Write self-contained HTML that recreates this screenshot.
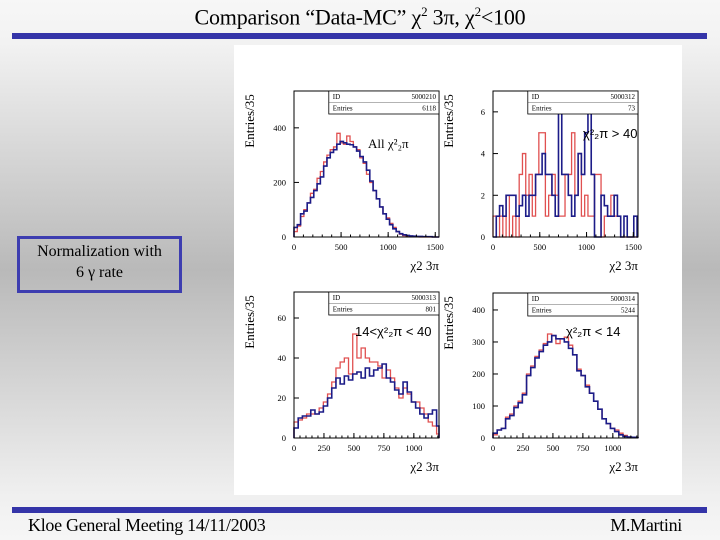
<!DOCTYPE html>
<html><head><meta charset="utf-8"><style>
body{margin:0}
#slide{position:relative;width:720px;height:540px;overflow:hidden;font-family:"Liberation Serif",serif;
background:linear-gradient(to bottom,#f7f7f7 0%,#f2f2f2 8%,#b9b9b9 50%,#f0f0f0 92%,#f6f6f6 100%)}
.abs{position:absolute}
</style></head><body>
<div id="slide">
<div class="abs" style="left:0;width:720px;top:4px;text-align:center;font-size:22px;letter-spacing:-0.2px">Comparison “Data-MC” χ<sup style="font-size:13px">2</sup> 3π, χ<sup style="font-size:13px">2</sup>&lt;100</div>
<div class="abs" style="left:12px;top:33px;width:695px;height:6px;background:#3434a8"></div>
<div class="abs" style="left:234px;top:45px;width:448px;height:450px;background:#fff"></div>
<div class="abs" style="left:17px;top:236px;width:159px;height:49px;border:3px solid #3d3db0;text-align:center;font-size:16px;line-height:21px;padding-top:2px">Normalization with<br>6 γ rate</div>
<div class="abs" style="left:12px;top:507px;width:695px;height:6px;background:#3434a8"></div>
<div class="abs" style="left:28px;top:515px;font-size:18px;letter-spacing:-0.3px">Kloe General Meeting 14/11/2003</div>
<div class="abs" style="right:38px;top:515px;font-size:18px;letter-spacing:-0.3px">M.Martini</div>
<svg id="chart" class="abs" style="left:0;top:0" width="720" height="540"></svg>
</div>
<script>
// Panel 1: All chi2_2pi (bins of 35)
const p1Blue=[35,45,85,95,125,145,170,195,220,260,290,310,320,340,350,345,340,338,330,315,295,275,245,205,170,140,110,85,65,45,30,20,12,8,6,4,3,2,2,1,1,1,0,0];
const p1Red=[20,40,75,100,125,160,175,215,240,275,300,320,330,380,345,340,370,350,330,320,290,270,230,200,170,140,110,85,70,50,35,20,10,5,3,2,1,1,0,0,0,0,0,0];
const p1YTicks=[0,200,400];
const p1XTicks=[0,500,1000,1500];
// Panel 2: chi2_2pi > 40
const p2Blue=[0,1,1.5,1,2,2,2,1,1.5,2,1,2,2,3,3,4,3,3,2,1,6,3,3,2,1,2,4,3,5,6,3,0,0,2,1.5,1,1,2,1,0,1,0,0,1,0];
const p2Red=[1,0,1,0,2,0,1,0,3,4,2,3,1,3,5,5,1,2,3,2,1,1,3,3,5,2,4,1,2,1,1,3,3,0,1,1,2,1,1,0,0,0,0,0,0];
const p2YTicks=[0,2,4,6];
const p2XTicks=[0,500,1000,1500];
// Panel 3: 14 < chi2_2pi < 40
const p3Blue=[5,10,11,11,14,12,13,16,20,25,30,27,31,29,32,33,30,35,31,34,35,37,30,28,24,22,28,23,18,15,12,10,12,14,6];
const p3Red=[8,9,10,12,12,12,15,18,22,28,35,38,40,32,52,40,45,40,38,38,36,30,34,30,25,20,25,22,18,18,15,12,8,6,2];
const p3YTicks=[0,20,40,60];
const p3XTicks=[0,250,500,750,1000];
// Panel 4: chi2_2pi < 14
const p4Blue=[15,25,30,60,70,95,110,135,195,220,250,270,290,300,320,310,310,300,280,260,210,195,160,140,115,90,60,45,30,20,10,5,3,2,1];
const p4Red=[10,25,30,65,75,100,115,140,200,225,255,275,295,325,320,295,310,315,290,260,215,195,165,140,115,90,60,45,30,25,15,8,3,2,1];
const p4YTicks=[0,100,200,300,400];
const p4XTicks=[0,250,500,750,1000];

const panels=[
 {name:'all',L:294,R:439,T:91,B:237,xmax:1540,ymax:535,blue:p1Blue,red:p1Red,yt:p1YTicks,xt:p1XTicks,id:'5000210',n:'6118',ann:'All χ²₂π',ax:368,ay:148,serif:true},
 {name:'gt40',L:493,R:638,T:91,B:237,xmax:1550,ymax:7,blue:p2Blue,red:p2Red,yt:p2YTicks,xt:p2XTicks,id:'5000312',n:'73',ann:'χ²₂π > 40',ax:583,ay:138},
 {name:'14to40',L:294,R:439,T:292,B:438,xmax:1210,ymax:73,blue:p3Blue,red:p3Red,yt:p3YTicks,xt:p3XTicks,id:'5000313',n:'801',ann:'14<χ²₂π < 40',ax:355,ay:336},
 {name:'lt14',L:493,R:638,T:293,B:438,xmax:1210,ymax:453,blue:p4Blue,red:p4Red,yt:p4YTicks,xt:p4XTicks,id:'5000314',n:'5244',ann:'χ²₂π < 14',ax:566,ay:336}
];
const NS='http://www.w3.org/2000/svg';
const svg=document.getElementById('chart');
function mk(tag,attrs,parent){const e=document.createElementNS(NS,tag);for(const k in attrs)e.setAttribute(k,attrs[k]);(parent||svg).appendChild(e);return e;}
panels.forEach(p=>{
 const g=mk('g',{});
 
 
 const xs=v=>p.L+v/p.xmax*(p.R-p.L);
 const ys=v=>p.B-v/p.ymax*(p.B-p.T);
 function hist(vals,color,nm,w){
  let d='M'+xs(0)+','+ys(0);
  vals.forEach((v,i)=>{const x0=xs(i*35),x1=xs(Math.min((i+1)*35,p.xmax));d+=' L'+x0+','+ys(v)+' L'+x1+','+ys(v);});
  d+=' L'+xs(Math.min(vals.length*35,p.xmax))+','+ys(0);
  const e=mk('path',{d:d,fill:'none',stroke:color,'stroke-width':w},g);
  
  
 }
 hist(p.red,'#e05050','data-red',1.3);
 hist(p.blue,'#1c1c88','mc-blue',1.6);
 const fr=mk('rect',{x:p.L,y:p.T,width:p.R-p.L,height:p.B-p.T,fill:'none',stroke:'#000','stroke-width':1},g);
 
 
 p.yt.forEach(v=>{
  mk('line',{x1:p.L,x2:p.L+5,y1:ys(v),y2:ys(v),stroke:'#000'},g);
  const t=mk('text',{x:p.L-8,y:ys(v)+3,'font-size':8.5,'text-anchor':'end','font-family':'Liberation Serif,serif'},g);
  t.textContent=v;
  
  
 });
 p.xt.forEach(v=>{
  mk('line',{x1:xs(v),x2:xs(v),y1:p.B,y2:p.B-5,stroke:'#000'},g);
  const t=mk('text',{x:xs(v),y:p.B+13,'font-size':8.5,'text-anchor':'middle','font-family':'Liberation Serif,serif'},g);
  t.textContent=v;
  
  
 });
 const step=p.xt[1]/5;
 for(let v=0;v<=p.xmax;v+=step) mk('line',{x1:xs(v),x2:xs(v),y1:p.B,y2:p.B-2.5,stroke:'#000'},g);
 const bx=p.L+(p.R-p.L)*0.24;
 const sb=mk('rect',{x:bx,y:p.T,width:p.R-bx,height:23,fill:'#fff',stroke:'#000','stroke-width':0.8},g);
 
 
 mk('line',{x1:bx,x2:p.R,y1:p.T+11.5,y2:p.T+11.5,stroke:'#000','stroke-width':0.3},g);
 [['ID',p.id,8],['Entries',p.n,19.5]].forEach(r=>{
  const a=mk('text',{x:bx+4,y:p.T+r[2],'font-size':7,'font-family':'Liberation Serif,serif'},g);a.textContent=r[0];
  
  
  const b=mk('text',{x:p.R-3,y:p.T+r[2],'font-size':7,'text-anchor':'end','font-family':'Liberation Serif,serif'},g);b.textContent=r[1];
  
  
 });
 const yl=mk('text',{transform:'translate('+(p.L-40)+','+(p.T+30)+') rotate(-90)','font-size':13,'text-anchor':'middle','font-family':'Liberation Serif,serif'},g);
 yl.textContent='Entries/35';
 
 
 const xl=mk('text',{x:p.R,y:p.B+33,'font-size':13,'text-anchor':'end','font-family':'Liberation Serif,serif'},g);
 xl.textContent='χ2 3π';
 
 
 const an=mk('text',{x:p.ax,y:p.ay,'font-size':13,'font-family':p.serif?'Liberation Serif,serif':'Liberation Sans,sans-serif'},g);
 an.textContent=p.ann;
 
 
});
</script>
</body></html>
